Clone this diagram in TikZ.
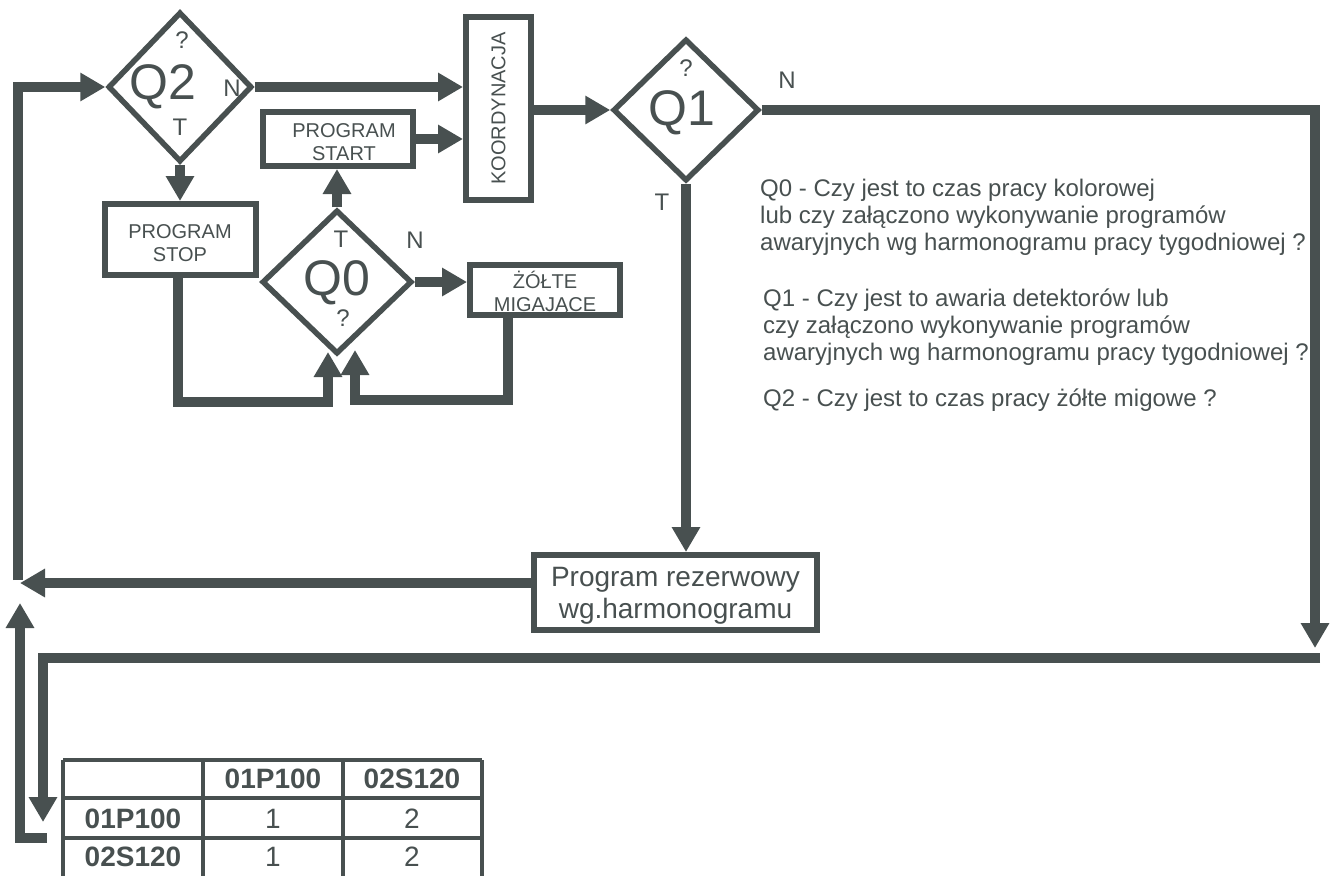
\documentclass[tikz,border=0pt]{standalone}
\usepackage{fontspec}
\setmainfont{Liberation Sans}
\usetikzlibrary{arrows.meta,shapes.geometric}
\definecolor{ink}{RGB}{72,80,80}
\begin{document}
\begin{tikzpicture}[x=1bp,y=-1bp,
  flow/.style={draw=ink,line width=10bp,line join=miter,-{Triangle[width=27bp,length=25bp]}},
  dia/.style={diamond,draw=ink,line width=5.5bp,inner sep=0pt},
  box/.style={rectangle,draw=ink,line width=6bp,inner sep=0pt},
  boxtext/.style={text=ink,align=center,inner sep=0pt,font=\fontsize{20bp}{23bp}\selectfont},
  bigboxtext/.style={boxtext,font=\fontsize{28bp}{32bp}\selectfont},
  lbl/.style={text=ink,font=\fontsize{24bp}{27bp}\selectfont,inner sep=0pt},
  big/.style={text=ink,font=\fontsize{50bp}{55bp}\selectfont,inner sep=0pt},
  desc/.style={text=ink,font=\fontsize{24bp}{27bp}\selectfont,inner sep=0pt,anchor=base west},
  tab/.style={text=ink,font=\fontsize{28bp}{32bp}\selectfont,inner sep=0pt},
  tabb/.style={text=ink,font=\fontsize{28bp}{32bp}\selectfont\bfseries,inner sep=0pt},
  gridline/.style={draw=ink,line width=3.5bp}
]
\useasboundingbox[fill=white] (0,0) rectangle (1334,875);

% decision diamonds
\node[dia,minimum width=144bp,minimum height=150bp] (Q2) at (180,87) {};
\node[dia,minimum width=150bp,minimum height=144bp] (Q0) at (337,282) {};
\node[dia,minimum width=146bp,minimum height=142bp] (Q1) at (686,110) {};

\node[lbl] (q2a) at (182,40) {?};
\node[big] (q2b) at (163,87) {Q2};
\node[lbl] (q2n) at (232,88) {N};
\node[lbl] (q2t) at (180,127) {T};

\node[lbl] (q0t) at (341,239) {T};
\node[big] (q0b) at (337,283) {Q0};
\node[lbl] (q0a) at (343,318) {?};
\node[lbl] (q0n) at (415,240) {N};

\node[lbl] (q1a) at (686,68) {?};
\node[big] (q1b) at (682,113) {Q1};
\node[lbl] (q1n) at (787,80) {N};
\node[lbl] (q1t) at (662,202) {T};

% boxes
\node[box,minimum width=151bp,minimum height=71bp] (PSTOP) at (180,239.5) {};
\node[boxtext] (PSTOPt) at ([yshift=-4bp]PSTOP.center) {PROGRAM\\STOP};
\node[box,minimum width=150bp,minimum height=54bp] (PSTART) at (338,139) {};
\node[boxtext] (PSTARTt) at ([xshift=6bp,yshift=-3bp]PSTART.center) {PROGRAM\\START};
\node[box,minimum width=65bp,minimum height=183bp] (K) at (498.5,108.5) {};
\node[boxtext,rotate=90] (Kt) at (K.center) {KOORDYNACJA};
\node[box,minimum width=150bp,minimum height=50bp] (ZOLTE) at (545,290) {};
\node[boxtext] (ZOLTEt) at ([yshift=-3bp]ZOLTE.center) {ŻÓŁTE\\MIGAJĄCE};
\node[box,minimum width=283bp,minimum height=75bp] (PREZ) at (675.5,592.5) {};
\node[bigboxtext] (PREZt) at ([yshift=-3bp]PREZ.center) {Program rezerwowy\\wg.harmonogramu};

% helper coordinates
\coordinate (c1) at (18,580);
\coordinate (j0) at (178,402);
\coordinate (j1) at (328,402);
\coordinate (t1) at (328,352);
\coordinate (j2) at (508,400);
\coordinate (j3) at (355,400);
\coordinate (t2) at (355,350);
\coordinate (t3) at (1315,648);
\coordinate (h1) at (1320,658);
\coordinate (h2) at (43,658);
\coordinate (t4) at (43,822);
\coordinate (t5) at (20,583);
\coordinate (s6) at (47,838);
\coordinate (j6) at (20,838);
\coordinate (t6) at (20,603);

% connectors
\draw[flow] (c1) |- (Q2.west);
\draw[flow] (Q2.east) -- (Q2.east -| K.west);
\draw[flow] (PSTART.east) -- (PSTART.east -| K.west);
\draw[flow] (Q2.south) -- (Q2.south |- PSTOP.north);
\draw[flow] (Q0.north) -- (Q0.north |- PSTART.south);
\draw[flow] (Q0.east) -- (Q0.east -| ZOLTE.west);
\draw[flow] (PSTOP.south -| j0) -- (j0) -- (j1) -- (t1);
\draw[flow] (ZOLTE.south -| j2) -- (j2) -- (j3) -- (t2);
\draw[flow] (K.east |- Q1.west) -- (Q1.west);
\draw[flow] (Q1.east) -| (t3);
\draw[flow] (h1) -- (h2) -- (t4);
\draw[flow] (Q1.south) -- (Q1.south |- PREZ.north);
\draw[flow] (PREZ.west |- t5) -- (t5);
\draw[flow] (s6) -- (j6) -- (t6);

% description text
\node[desc] (d1) at (760,196) {Q0 - Czy jest to czas pracy kolorowej};
\node[desc] (d2) at (760,223) {lub czy załączono wykonywanie programów};
\node[desc] (d3) at (760,250) {awaryjnych wg harmonogramu pracy tygodniowej ?};
\node[desc] (d4) at (763,306) {Q1 - Czy jest to awaria detektorów lub};
\node[desc] (d5) at (763,333) {czy załączono wykonywanie programów};
\node[desc] (d6) at (763,360) {awaryjnych wg harmonogramu pracy tygodniowej ?};
\node[desc] (d7) at (763,406) {Q2 - Czy jest to czas pracy żółte migowe ?};

% table
\draw[gridline] (63,760) -- (482,760);
\draw[gridline] (63,798) -- (482,798);
\draw[gridline] (63,838) -- (482,838);
\draw[gridline] (63,760) -- (63,885);
\draw[gridline] (203,760) -- (203,885);
\draw[gridline] (343,760) -- (343,885);
\draw[gridline] (482,760) -- (482,885);
\node[tabb] (th1) at (273,779) {01P100};
\node[tabb] (th2) at (412,779) {02S120};
\node[tabb] (tr1) at (133,819) {01P100};
\node[tab] (c11) at (273,819) {1};
\node[tab] (c12) at (412,819) {2};
\node[tabb] (tr2) at (133,857) {02S120};
\node[tab] (c21) at (273,857) {1};
\node[tab] (c22) at (412,857) {2};
\end{tikzpicture}
\end{document}
